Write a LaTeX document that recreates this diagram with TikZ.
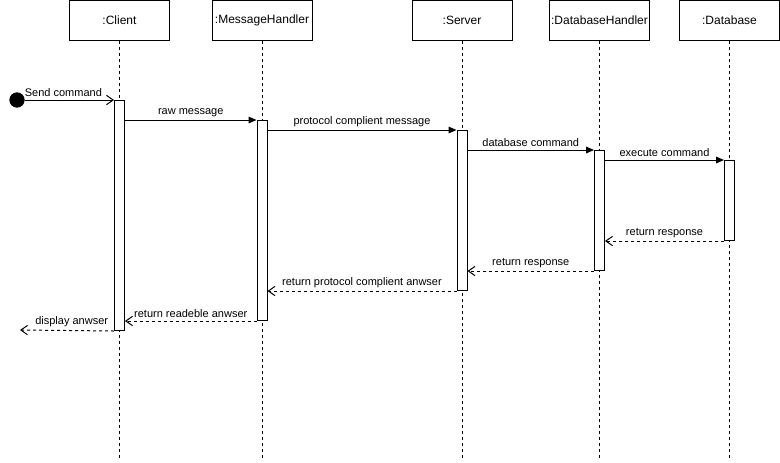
\documentclass[tikz,border=0pt]{standalone}
\usepackage{fontspec}
\setmainfont{Liberation Sans}
\usetikzlibrary{arrows.meta}
\begin{document}
\begin{tikzpicture}[x=0.75pt,y=-0.75pt,line width=0.75pt,
  head/.style={draw,minimum width=75pt,minimum height=30pt,inner sep=0pt,font=\fontsize{9}{10}\selectfont},
  life/.style={dash pattern=on 2.25pt off 2.25pt},
  bar/.style={draw,fill=white,minimum width=7.5pt,inner sep=0pt,anchor=north},
  call/.style={-{Triangle[length=6pt,width=5pt]}},
  open/.style={-{Straight Barb[length=5pt,width=7pt]}},
  reply/.style={dash pattern=on 2.25pt off 2.25pt,-{Straight Barb[length=5pt,width=7pt]}},
  msg/.style={font=\fontsize{8.25}{9}\selectfont,inner sep=2.3pt,above},
  start/.style={circle,fill,inner sep=0pt,minimum size=11.5pt}]
\useasboundingbox (0,0) rectangle (780,462);

\node[head] (client) at (119.5,20) {:Client};
\node[head] (mhandler) at (262,20) {:MessageHandler};
\node[head] (server) at (462,20) {:Server};
\node[head] (dhandler) at (599.5,20) {:DatabaseHandler};
\node[head] (database) at (729.5,20) {:Database};

\draw[life] (client.south) -- ++(0,418);
\draw[life] (mhandler.south) -- ++(0,418);
\draw[life] (server.south) -- ++(0,418);
\draw[life] (dhandler.south) -- ++(0,418);
\draw[life] (database.south) -- ++(0,418);

\node[bar,minimum height=172.5pt] (bc) at (119.5,100) {};
\node[bar,minimum height=150pt] (bm) at (262,120) {};
\node[bar,minimum height=120pt] (bs) at (462,130) {};
\node[bar,minimum height=90pt] (bh) at (599.5,150) {};
\node[bar,minimum height=60pt] (bd) at (729.5,160) {};

\node[start] (go) at (17,100) {};
\coordinate (out) at (20,330);

\draw[open] (go) -- (bc.north west) node[msg,pos=0.43] {Send command};
\draw[call] (bc.east |- bm.north) -- (bm.north west) node[msg,midway] {raw message};
\draw[call] (bm.east |- bs.north) -- (bs.north west) node[msg,midway] {protocol complient message};
\draw[call] (bs.east |- bh.north) -- (bh.north west) node[msg,midway] {database command};
\draw[call] (bh.east |- bd.north) -- (bd.north west) node[msg,midway] {execute command};
\draw[reply] (bd.south west) -- (bd.south west -| bh.east) node[msg,midway] {return response};
\draw[reply] (bh.south west) -- (bh.south west -| bs.east) node[msg,midway] {return response};
\draw[reply] (bs.south west) -- (bs.south west -| bm.east) node[msg,midway] {return protocol complient anwser};
\draw[reply] (bm.south west) -- (bm.south west -| bc.east) node[msg,midway] {return readeble anwser};
\draw[reply] (bc.south west) -- (out) node[msg,pos=0.45] {display anwser};
\end{tikzpicture}
\end{document}
